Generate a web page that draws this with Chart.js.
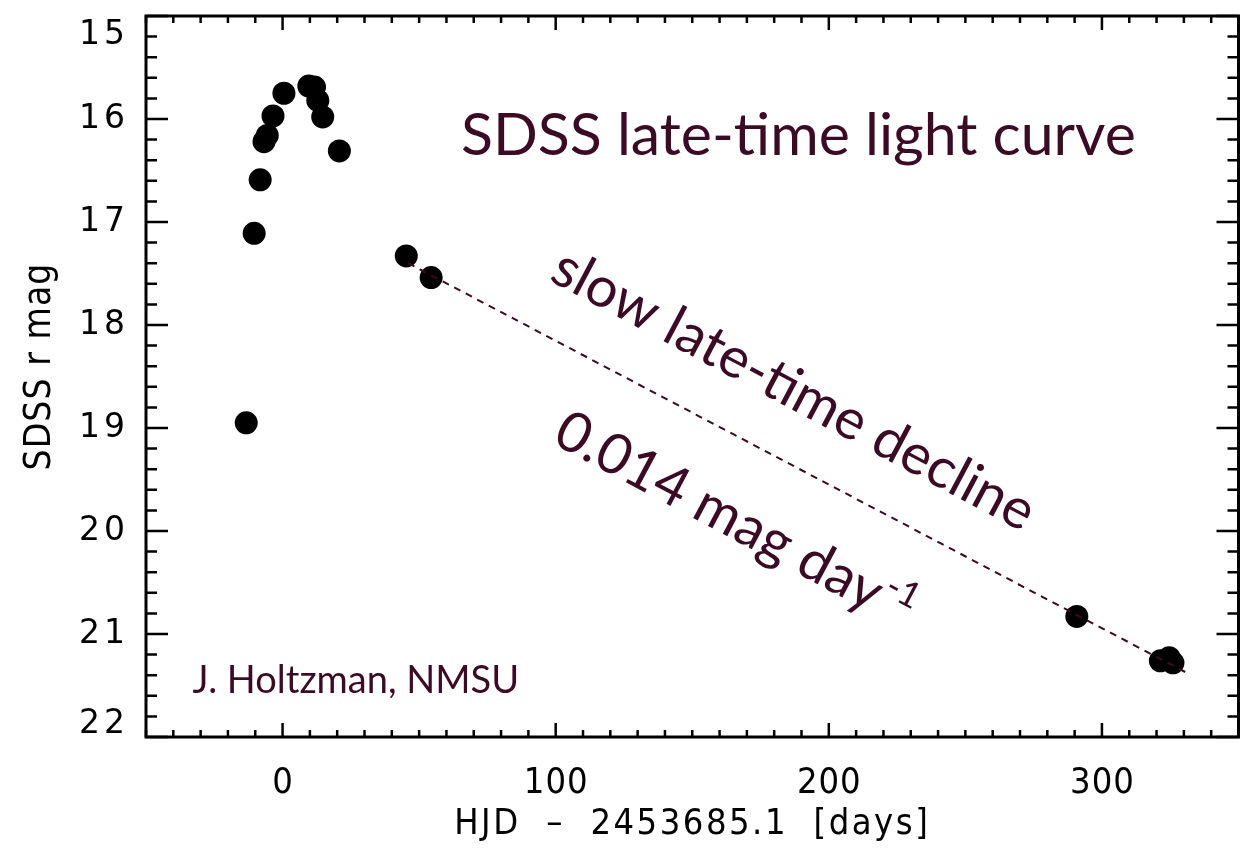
<!DOCTYPE html>
<html>
<head>
<meta charset="utf-8">
<script src="https://cdn.jsdelivr.net/npm/chart.js@4/dist/chart.umd.min.js"></script>
<style>
  html, body { margin: 0; padding: 0; background: #fff; }
  #wrap { width: 1250px; height: 849px; }
</style>
</head>
<body>
<div id="wrap"><canvas id="lc"></canvas></div>
<script>
// light curve points (days since HJD 2453685.1, SDSS r mag)
const days = [-13.3, -10.4, -8.2, -6.8, -5.6, -3.5, 0.5, 9.6, 11.7, 12.9, 14.7, 20.8, 45.3, 54.4, 290.8, 321.4, 324.6, 326.0];
const rMag = [18.95, 17.11, 16.59, 16.22, 16.16, 15.97, 15.75, 15.68, 15.69, 15.82, 15.98, 16.31, 17.33, 17.54, 20.83, 21.26, 21.23, 21.28];

// late-time linear decline (0.014 mag/day)
const fitDays = [46, 332];
const fitMag = [17.40, 21.39];

// axis ticks
const xTicks = [0, 100, 200, 300];
const yTicks = [15, 16, 17, 18, 19, 20, 21, 22];

const ink = '#3b0b24';
const gill = "Lato, 'Open Sans', sans-serif";
const narrow = "'DejaVu Sans Condensed', 'DejaVu Sans'";

// IDL style box with inward ticks on all four sides, plus axis text
const boxPlugin = {
  id: 'box',
  beforeDatasetsDraw(chart) {
    const ctx = chart.ctx;
    const a = chart.chartArea;
    const x = chart.scales.x, y = chart.scales.y;
    ctx.save();
    ctx.strokeStyle = '#000';
    ctx.lineWidth = 3;
    ctx.strokeRect(a.left, a.top, a.right - a.left, a.bottom - a.top);
    ctx.lineWidth = 2.5;
    ctx.beginPath();
    for (let v = -50; v <= 350; v += 10) {
      const px = x.getPixelForValue(v);
      const len = (v % 100 === 0) ? 14 : 7;
      ctx.moveTo(px, a.bottom); ctx.lineTo(px, a.bottom - len);
      ctx.moveTo(px, a.top); ctx.lineTo(px, a.top + len);
    }
    for (let i = 0; i <= 35; i++) {
      const v = 15 + i * 0.2;
      const py = y.getPixelForValue(v);
      const len = (i % 5 === 0) ? 22 : 11;
      ctx.moveTo(a.left, py); ctx.lineTo(a.left + len, py);
      ctx.moveTo(a.right, py); ctx.lineTo(a.right - len, py);
    }
    ctx.stroke();

    // tick labels
    ctx.fillStyle = '#000';
    ctx.font = '33px "DejaVu Sans"';
    ctx.letterSpacing = '4px';
    ctx.textAlign = 'right';
    yTicks.forEach((v, i) => {
      let py = y.getPixelForValue(v);
      ctx.textBaseline = 'middle';
      if (i === 0) { ctx.textBaseline = 'top'; py += 3; }
      if (i === yTicks.length - 1) { ctx.textBaseline = 'bottom'; py += 4; }
      ctx.fillText(String(v), a.left - 17, py);
    });
    ctx.font = '36px ' + narrow;
    ctx.letterSpacing = '1px';
    ctx.textAlign = 'center';
    ctx.textBaseline = 'middle';
    xTicks.forEach(v => {
      ctx.fillText(String(v), x.getPixelForValue(v) + 0.5, a.bottom + 47);
    });

    // axis titles
    ctx.letterSpacing = '2.5px';
    ctx.fillText('HJD  \u2013  2453685.1  [days]', (a.left + a.right) / 2, a.bottom + 88);
    ctx.save();
    ctx.translate(40, (a.top + a.bottom) / 2 - 10);
    ctx.rotate(-Math.PI / 2);
    ctx.letterSpacing = '1px';
    ctx.font = '37px ' + narrow;
    ctx.fillText('SDSS r mag', 0, 0);
    ctx.restore();
    ctx.restore();
  },
  afterDraw(chart) {
    const ctx = chart.ctx;
    const x = chart.scales.x, y = chart.scales.y;
    const ang = 28 * Math.PI / 180;
    ctx.save();
    ctx.fillStyle = ink;
    ctx.letterSpacing = '0px';
    ctx.textBaseline = 'alphabetic';
    ctx.textAlign = 'left';

    ctx.font = '59px ' + gill;
    ctx.fillText('SDSS late-time light curve', x.getPixelForValue(65.3), y.getPixelForValue(16.35));

    ctx.font = '38px ' + gill;
    ctx.fillText('J. Holtzman, NMSU', x.getPixelForValue(-33), y.getPixelForValue(21.57));

    ctx.save();
    ctx.translate(x.getPixelForValue(97.1), y.getPixelForValue(17.56));
    ctx.rotate(ang);
    ctx.font = '56px ' + gill;
    ctx.fillText('slow late-time decline', 0, 0);
    ctx.restore();

    ctx.save();
    ctx.translate(x.getPixelForValue(98.2), y.getPixelForValue(19.14));
    ctx.rotate(ang);
    ctx.font = '56px ' + gill;
    const main = '0.014 mag day';
    ctx.fillText(main, 0, 0);
    const w = ctx.measureText(main).width;
    ctx.font = '36px ' + gill;
    ctx.fillText('-1', w + 2, -22);
    ctx.restore();

    ctx.restore();
  }
};

new Chart(document.getElementById('lc'), {
  type: 'scatter',
  data: {
    datasets: [{
      type: 'line',
      data: fitDays.map((d, i) => ({ x: d, y: fitMag[i] })),
      borderColor: ink,
      borderWidth: 2,
      borderDash: [7, 6],
      pointRadius: 0,
      fill: false,
      order: 0
    }, {
      data: days.map((d, i) => ({ x: d, y: rMag[i] })),
      backgroundColor: '#000',
      borderColor: '#000',
      borderWidth: 0,
      pointRadius: 11.5,
      pointHoverRadius: 11.5,
      order: 1
    }]
  },
  plugins: [boxPlugin],
  options: {
    responsive: true,
    maintainAspectRatio: false,
    animation: false,
    events: [],
    layout: { padding: { top: 16, right: 4, left: 0, bottom: 0 } },
    plugins: {
      legend: { display: false },
      tooltip: { enabled: false }
    },
    scales: {
      x: {
        type: 'linear',
        min: -50,
        max: 350,
        afterFit: s => { s.height = 112; s.paddingLeft = 0; s.paddingRight = 0; },
        grid: { display: false, drawTicks: false },
        border: { display: false },
        ticks: { display: false }
      },
      y: {
        type: 'linear',
        reverse: true,
        min: 15,
        max: 22,
        afterFit: s => { s.width = 146; s.paddingTop = 0; s.paddingBottom = 0; },
        grid: { display: false, drawTicks: false },
        border: { display: false },
        ticks: { display: false }
      }
    }
  }
});
</script>
</body>
</html>
